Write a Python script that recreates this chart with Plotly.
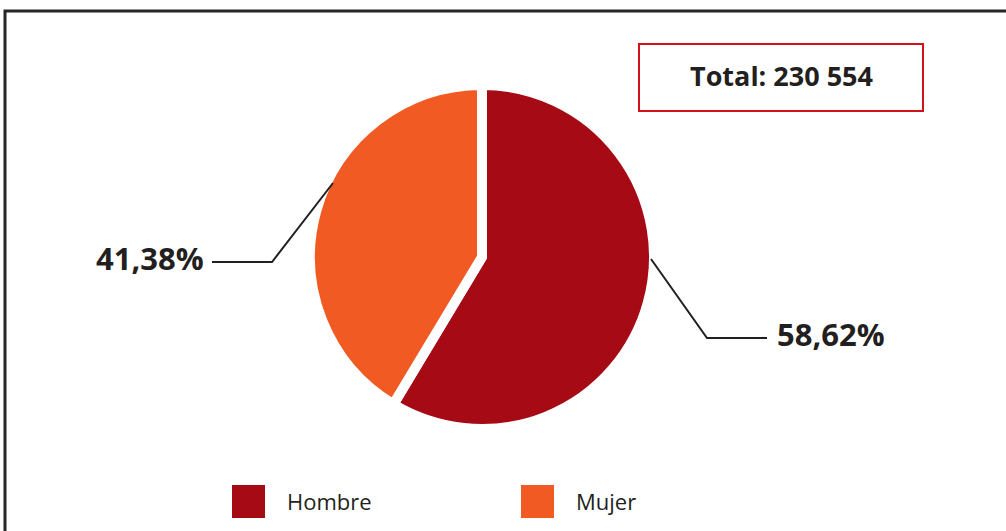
import plotly.graph_objects as go

W, H = 1006, 531

categories = ["Hombre", "Mujer"]
values = [58.62, 41.38]
colors = ["#A50A15", "#F15A22"]
pct_labels = ["58,62%", "41,38%"]
total_text = "Total: 230 554"

TXT = "#231F20"
FONT = "Open Sans, Noto Sans, sans-serif"


def px(x):
    return x / W


def py(y):
    return 1 - y / H


# Pie geometry (pixels): center (482, 257), drawn radius ~172 (white border eats 5px)
cx, cy, r = 482, 257, 172

fig = go.Figure()
fig.add_trace(go.Pie(
    labels=categories,
    values=values,
    sort=False,
    direction="clockwise",
    rotation=0,
    textinfo="none",
    hoverinfo="label+percent",
    marker=dict(colors=colors, line=dict(color="white", width=10)),
    domain=dict(x=[px(cx - r), px(cx + r)], y=[py(cy + r), py(cy - r)]),
    showlegend=False,
))

shapes = []
annotations = []

# outer frame
shapes.append(dict(type="rect", xref="paper", yref="paper",
                   x0=px(5), y0=py(11), x1=px(1100), y1=py(700),
                   line=dict(color="#262626", width=3), fillcolor="rgba(0,0,0,0)"))

# Total box
shapes.append(dict(type="rect", xref="paper", yref="paper",
                   x0=px(639), y0=py(44), x1=px(923), y1=py(111),
                   line=dict(color="#D0121B", width=2), fillcolor="white"))
annotations.append(dict(xref="paper", yref="paper", x=px(781), y=py(76),
                        text="<b>" + total_text + "</b>", showarrow=False,
                        xanchor="center", yanchor="middle",
                        font=dict(family=FONT, size=27, color=TXT)))

# Leader lines
leaders = [
    [(651, 259), (707, 338), (767, 338)],   # Hombre
    [(333, 183), (272, 262), (212, 262)],   # Mujer
]
for pts in leaders:
    path = "M {} {}".format(px(pts[0][0]), py(pts[0][1]))
    for p in pts[1:]:
        path += " L {} {}".format(px(p[0]), py(p[1]))
    shapes.append(dict(type="path", xref="paper", yref="paper", path=path,
                       line=dict(color=TXT, width=2)))

# Percent labels
annotations.append(dict(xref="paper", yref="paper", x=px(775), y=py(334),
                        text="<b>" + pct_labels[0] + "</b>", showarrow=False,
                        xanchor="left", yanchor="middle",
                        font=dict(family=FONT, size=31, color=TXT)))
annotations.append(dict(xref="paper", yref="paper", x=px(206), y=py(258),
                        text="<b>" + pct_labels[1] + "</b>", showarrow=False,
                        xanchor="right", yanchor="middle",
                        font=dict(family=FONT, size=31, color=TXT)))

# Custom legend
legend_x = [232, 521]
for i, cat in enumerate(categories):
    x0 = legend_x[i]
    shapes.append(dict(type="rect", xref="paper", yref="paper",
                       x0=px(x0), y0=py(518), x1=px(x0 + 33), y1=py(485),
                       line=dict(width=0), fillcolor=colors[i]))
    annotations.append(dict(xref="paper", yref="paper", x=px(x0 + 53), y=py(501),
                            text=cat, showarrow=False, xanchor="left", yanchor="middle",
                            font=dict(family=FONT, size=22, color=TXT)))

fig.update_layout(
    width=W, height=H,
    margin=dict(l=0, r=0, t=0, b=0),
    paper_bgcolor="white", plot_bgcolor="white",
    shapes=shapes, annotations=annotations,
    showlegend=False,
)

fig.write_html("out.html",
               config={"displayModeBar": False},
               post_script="document.body.style.margin='0';document.body.style.overflow='hidden';")
